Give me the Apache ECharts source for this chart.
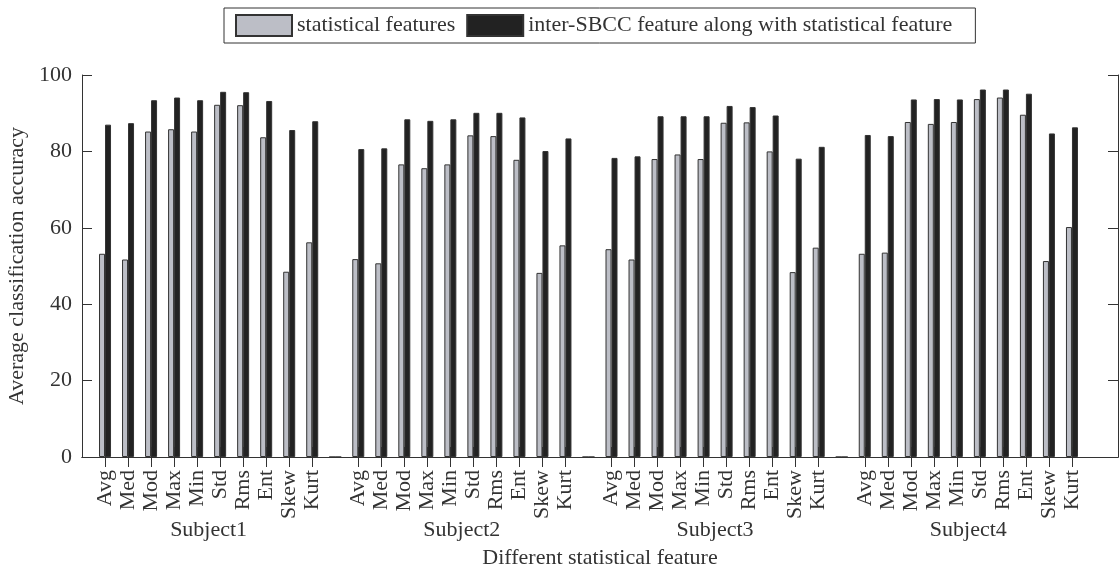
<!DOCTYPE html>
<html>
<head>
<meta charset="utf-8">
<title>Average classification accuracy</title>
<script src="https://cdn.jsdelivr.net/npm/echarts@6/dist/echarts.min.js"></script>
<style>
    html, body { margin: 0; padding: 0; background: #fff; }
    #main { width: 1119px; height: 569px; }
</style>
</head>
<body>
<div id="main"></div>
<script>
    // 数据
    var features = ['Avg', 'Med', 'Mod', 'Max', 'Min', 'Std', 'Rms', 'Ent', 'Skew', 'Kurt'];
    var subjects = ['Subject1', 'Subject2', 'Subject3', 'Subject4'];
    var yTicks = [0, 20, 40, 60, 80, 100];

    // statistical features
    var stat1 = [53.2, 51.7, 85.2, 85.8, 85.2, 92.2, 92.1, 83.7, 48.5, 56.2];
    var stat2 = [51.8, 50.7, 76.6, 75.6, 76.6, 84.2, 84.0, 77.8, 48.2, 55.4];
    var stat3 = [54.4, 51.7, 78.0, 79.2, 78.0, 87.5, 87.6, 80.0, 48.4, 54.8];
    var stat4 = [53.2, 53.5, 87.7, 87.2, 87.7, 93.7, 94.1, 89.6, 51.3, 60.2];

    // inter-SBCC feature along with statistical feature
    var comb1 = [87.0, 87.4, 93.4, 94.1, 93.4, 95.6, 95.5, 93.2, 85.6, 87.9];
    var comb2 = [80.6, 80.8, 88.4, 88.0, 88.4, 90.1, 90.1, 88.9, 80.1, 83.4];
    var comb3 = [78.3, 78.7, 89.2, 89.2, 89.2, 91.9, 91.6, 89.4, 78.1, 81.2];
    var comb4 = [84.3, 84.0, 93.6, 93.7, 93.6, 96.2, 96.2, 95.1, 84.7, 86.3];

    var font = "'Liberation Serif', 'Times New Roman', serif";
    var ink = '#333';

    // x 轴：组之间空一格，两端各留空位
    function buildSeries(groups) {
        var out = ['-'];
        for (var g = 0; g < groups.length; g++) {
            out = out.concat(groups[g]);
            out.push(g < groups.length - 1 ? 0 : '-');
        }
        out.push('-');
        return out;
    }
    var cats = [''];
    for (var g = 0; g < subjects.length; g++) {
        cats = cats.concat(features);
        cats.push('');
    }
    cats.push('');

    // 组名放在第二条类目轴（区间中心）
    var subjectCats = [];
    for (var i = 0; i < cats.length - 1; i++) subjectCats.push('');
    for (var g = 0; g < subjects.length; g++) {
        subjectCats[1 + 11 * g + 4] = subjects[g];
    }

    var tickAtFeature = function (idx, val) { return val !== ''; };

    var dom = document.getElementById('main');
    var myChart = echarts.init(dom);
    var option = {
        animation: false,
        textStyle: { fontFamily: font },
        legend: {
            left: 224,
            top: 8,
            padding: [6, 23, 6, 11],
            borderColor: ink,
            borderWidth: 1,
            icon: 'rect',
            itemWidth: 56,
            itemHeight: 21,
            itemGap: 11,
            textStyle: { fontFamily: font, fontSize: 22, color: ink }
        },
        grid: {
            left: 82,
            right: 1,
            top: 75,
            bottom: 112,
            containLabel: false,
            outerBoundsMode: 'none'
        },
        xAxis: [
            {
                type: 'category',
                data: cats,
                boundaryGap: false,
                position: 'bottom',
                axisLine: { lineStyle: { color: ink, width: 1 } },
                axisTick: { inside: true, length: 10, interval: tickAtFeature, lineStyle: { color: ink } },
                axisLabel: {
                    interval: 0,
                    rotate: 90,
                    margin: 13,
                    fontFamily: font,
                    fontSize: 22,
                    color: ink
                },
                name: 'Different statistical feature',
                nameLocation: 'middle',
                nameGap: 90,
                nameTextStyle: { fontFamily: font, fontSize: 22, color: ink }
            },
            {
                type: 'category',
                data: cats,
                boundaryGap: false,
                position: 'top',
                axisLine: { lineStyle: { color: ink, width: 1 } },
                axisTick: { inside: true, length: 10, interval: tickAtFeature, lineStyle: { color: ink } },
                axisLabel: { show: false }
            },
            {
                type: 'category',
                data: subjectCats,
                boundaryGap: true,
                position: 'bottom',
                offset: 62,
                axisLine: { show: false },
                axisTick: { show: false },
                axisLabel: {
                    interval: 0,
                    margin: 0,
                    fontFamily: font,
                    fontSize: 22,
                    color: ink
                }
            }
        ],
        yAxis: [
            {
                type: 'value',
                min: 0,
                max: 100,
                interval: 20,
                position: 'left',
                splitLine: { show: false },
                axisLine: { show: true, lineStyle: { color: ink, width: 1 } },
                axisTick: { show: true, inside: true, length: 10, lineStyle: { color: ink } },
                axisLabel: {
                    margin: 10,
                    fontFamily: font,
                    fontSize: 22,
                    color: ink,
                    formatter: function (v) { return yTicks.indexOf(v) >= 0 ? String(v) : ''; }
                },
                name: 'Average classification accuracy',
                nameLocation: 'middle',
                nameGap: 44,
                nameTextStyle: { fontFamily: font, fontSize: 22, color: ink }
            },
            {
                type: 'value',
                min: 0,
                max: 100,
                interval: 20,
                position: 'right',
                splitLine: { show: false },
                axisLine: { show: true, lineStyle: { color: ink, width: 1 } },
                axisTick: { show: true, inside: true, length: 10, lineStyle: { color: ink } },
                axisLabel: { show: false }
            }
        ],
        series: [
            {
                name: 'statistical features',
                type: 'bar',
                xAxisIndex: 0,
                yAxisIndex: 0,
                barWidth: 6,
                barGap: '0%',
                itemStyle: { color: '#bcbec6', borderColor: '#333', borderWidth: 1 },
                data: buildSeries([stat1, stat2, stat3, stat4])
            },
            {
                name: 'inter-SBCC feature along with statistical feature',
                type: 'bar',
                xAxisIndex: 0,
                yAxisIndex: 0,
                barWidth: 6,
                barGap: '0%',
                itemStyle: { color: '#222', borderColor: '#333', borderWidth: 1 },
                data: buildSeries([comb1, comb2, comb3, comb4])
            }
        ]
    };
    if (option && typeof option === "object") {
        myChart.setOption(option, true);
    }
</script>
</body>
</html>
